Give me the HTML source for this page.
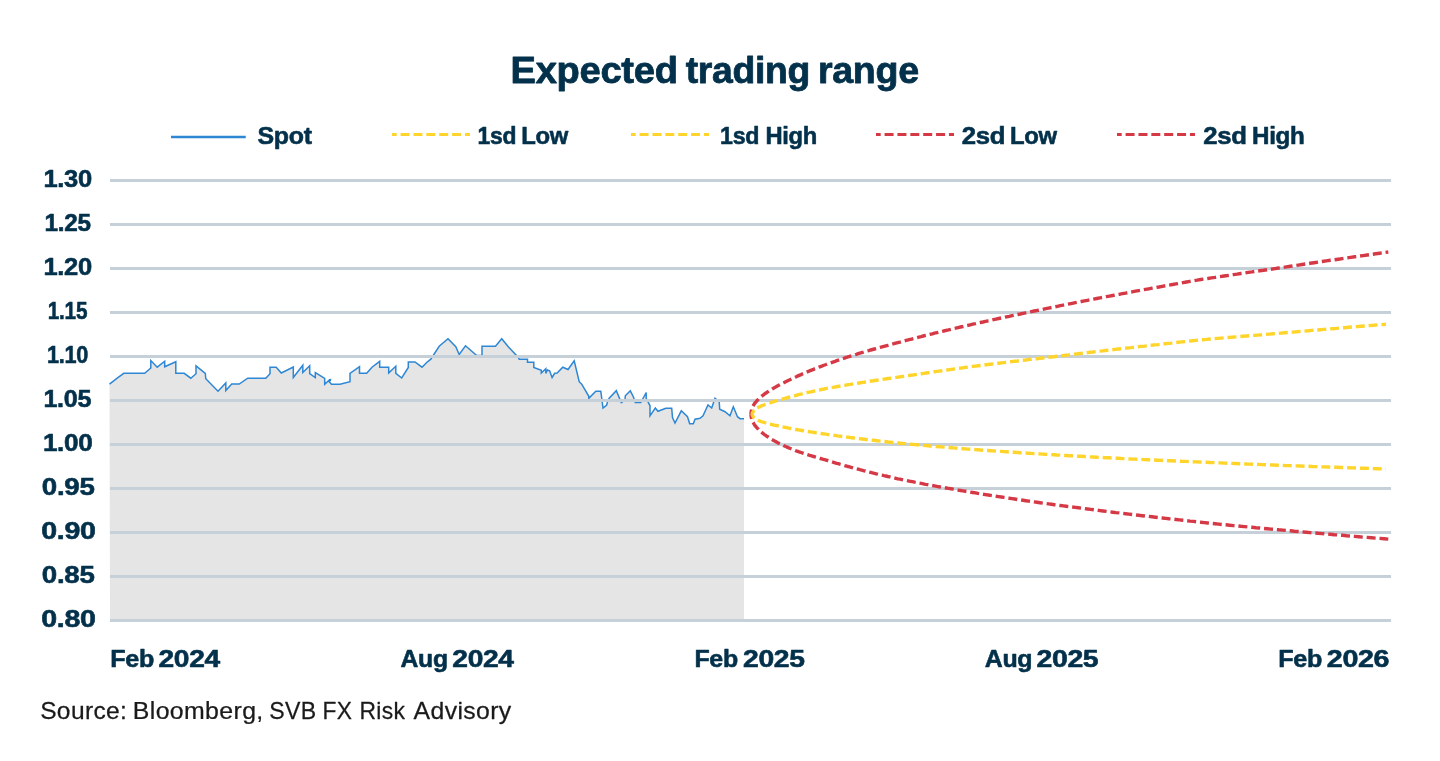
<!DOCTYPE html>
<html lang="en">
<head>
<meta charset="utf-8">
<title>Expected trading range</title>
<style>
html,body{margin:0;padding:0;background:#fff;}
body{width:1440px;height:761px;overflow:hidden;font-family:"Liberation Sans", Arial, Helvetica, sans-serif;}
svg{display:block;}
text{font-family:"Liberation Sans", Arial, Helvetica, sans-serif;white-space:pre;}
.b{font-weight:700;fill:#03304A;}
.s{font-weight:400;fill:#1A1A1A;}
</style>
</head>
<body>
<svg width="1440" height="761" viewBox="0 0 1440 761">
<rect width="1440" height="761" fill="#fff"/>
<g class="b" font-size="37" stroke="#03304A" stroke-width="0.8" stroke-linejoin="round"><text transform="scale(1.0302,1)" x="495.64 520.02 540.30 562.60 582.88 603.16 615.18 635.46 655.58" y="82.8">Expected </text><text transform="scale(1.0091,1)" x="679.53 691.56 705.65 725.93 748.23 758.21 780.51 800.64" y="82.8">trading </text><text transform="scale(1.0158,1)" x="805.23 819.33 839.61 861.91 884.21" y="82.8">range</text></g>
<line x1="171" y1="137" x2="245.75" y2="137" stroke="#2E87D4" stroke-width="2.6"/>
<line x1="392" y1="134.5" x2="470" y2="134.5" stroke="#FFD52B" stroke-width="3" stroke-dasharray="9 3.875" stroke-dashoffset="4.3"/>
<line x1="631" y1="134.5" x2="709" y2="134.5" stroke="#FFD52B" stroke-width="3" stroke-dasharray="9 3.875" stroke-dashoffset="4.3"/>
<line x1="876" y1="134.5" x2="954" y2="134.5" stroke="#D63946" stroke-width="3" stroke-dasharray="9 3.875" stroke-dashoffset="4.3"/>
<line x1="1117" y1="134.5" x2="1195" y2="134.5" stroke="#D63946" stroke-width="3" stroke-dasharray="9 3.875" stroke-dashoffset="4.3"/>
<g class="b" font-size="24.5" stroke="#03304A" stroke-width="0.6" stroke-linejoin="round"><text transform="scale(1.0172,1)" x="253.18 269.22 283.89 298.55" y="143.7">Spot</text></g>
<g class="b" font-size="24.5" stroke="#03304A" stroke-width="0.6" stroke-linejoin="round"><text transform="scale(0.9345,1)" x="511.10 524.42 537.75 551.12" y="143.7">1sd </text><text transform="scale(0.9737,1)" x="535.27 549.94 564.60" y="143.7">Low</text></g>
<g class="b" font-size="24.5" stroke="#03304A" stroke-width="0.6" stroke-linejoin="round"><text transform="scale(0.9474,1)" x="760.03 773.35 786.68 800.05" y="143.7">1sd </text><text transform="scale(0.9695,1)" x="789.53 806.92 813.43 828.09" y="143.7">High</text></g>
<g class="b" font-size="24.5" stroke="#03304A" stroke-width="0.6" stroke-linejoin="round"><text transform="scale(1.0498,1)" x="916.24 929.57 942.89 956.27" y="143.7">2sd </text><text transform="scale(0.9759,1)" x="1034.88 1049.54 1064.21" y="143.7">Low</text></g>
<g class="b" font-size="24.5" stroke="#03304A" stroke-width="0.6" stroke-linejoin="round"><text transform="scale(1.0498,1)" x="1146.10 1159.42 1172.75 1186.12" y="143.7">2sd </text><text transform="scale(0.9873,1)" x="1268.08 1285.47 1291.98 1306.65" y="143.7">High</text></g>
<path d="M109.5,384.2 L117.5,377.8 L123.8,373.3 L144.7,373.3 L150.8,368.0 L150.8,360.5 L157.2,367.2 L164.7,361.2 L164.7,366.8 L175.8,361.7 L175.8,373.3 L184.2,373.3 L190.8,378.2 L196.0,373.7 L196.0,365.8 L205.3,373.3 L205.8,378.7 L218.0,391.2 L225.8,383.0 L225.8,390.5 L231.7,384.0 L239.2,384.0 L247.7,378.2 L265.8,378.2 L270.0,373.7 L270.0,367.3 L276.2,367.3 L281.3,373.0 L293.3,367.0 L293.3,377.5 L302.8,365.3 L302.8,372.5 L309.7,365.8 L309.7,373.7 L315.3,377.5 L315.3,372.5 L324.7,378.3 L324.7,384.2 L329.6,379.7 L330.5,379.6 L330.4,380.5 L329.2,381.8 L331.5,384.2 L340.0,384.2 L350.0,381.7 L350.0,373.3 L359.5,366.7 L359.5,373.3 L366.7,373.3 L372.0,367.2 L379.7,361.3 L379.7,367.2 L388.7,367.2 L388.7,373.0 L395.8,366.3 L395.8,373.3 L401.7,378.0 L408.3,367.5 L408.3,362.0 L415.0,362.0 L422.0,367.2 L426.7,362.5 L430.8,359.2 L439.2,346.3 L448.0,338.8 L455.8,346.7 L459.2,354.5 L465.5,345.8 L476.7,355.5 L482.0,355.5 L482.0,346.2 L495.5,346.2 L501.7,338.7 L508.3,346.7 L518.3,357.5 L519.2,359.2 L527.5,359.2 L527.5,362.2 L533.8,362.2 L533.8,367.5 L541.3,370.3 L541.3,373.0 L545.8,368.8 L545.8,373.3 L547.5,370.0 L549.6,370.8 L552.1,377.5 L554.7,373.3 L557.1,373.0 L562.8,367.2 L568.0,369.5 L574.2,360.8 L579.2,381.7 L581.7,384.2 L588.8,396.3 L588.8,398.3 L595.8,391.2 L600.8,391.2 L603.0,408.0 L606.7,405.0 L607.5,401.7 L609.2,398.3 L616.3,390.7 L621.3,402.5 L625.0,400.0 L625.3,395.8 L630.3,390.8 L633.3,396.7 L635.3,402.5 L640.8,402.5 L646.2,392.5 L646.2,398.3 L650.0,405.8 L650.0,415.8 L655.3,408.0 L658.0,411.3 L665.8,408.3 L671.7,408.3 L672.5,417.5 L675.0,423.0 L681.3,410.8 L687.5,416.7 L689.7,423.7 L693.3,423.7 L695.0,419.2 L700.0,418.3 L703.0,415.8 L708.0,405.0 L711.7,408.0 L715.0,398.3 L719.2,401.7 L719.7,409.2 L725.0,411.7 L730.0,415.8 L733.3,406.7 L737.5,416.7 L740.0,418.7 L744.0,418.7 L744,620.5 L110,620.5 Z" fill="#E5E5E5"/>
<path d="M109.5,384.2 L117.5,377.8 L123.8,373.3 L144.7,373.3 L150.8,368.0 L150.8,360.5 L157.2,367.2 L164.7,361.2 L164.7,366.8 L175.8,361.7 L175.8,373.3 L184.2,373.3 L190.8,378.2 L196.0,373.7 L196.0,365.8 L205.3,373.3 L205.8,378.7 L218.0,391.2 L225.8,383.0 L225.8,390.5 L231.7,384.0 L239.2,384.0 L247.7,378.2 L265.8,378.2 L270.0,373.7 L270.0,367.3 L276.2,367.3 L281.3,373.0 L293.3,367.0 L293.3,377.5 L302.8,365.3 L302.8,372.5 L309.7,365.8 L309.7,373.7 L315.3,377.5 L315.3,372.5 L324.7,378.3 L324.7,384.2 L329.6,379.7 L330.5,379.6 L330.4,380.5 L329.2,381.8 L331.5,384.2 L340.0,384.2 L350.0,381.7 L350.0,373.3 L359.5,366.7 L359.5,373.3 L366.7,373.3 L372.0,367.2 L379.7,361.3 L379.7,367.2 L388.7,367.2 L388.7,373.0 L395.8,366.3 L395.8,373.3 L401.7,378.0 L408.3,367.5 L408.3,362.0 L415.0,362.0 L422.0,367.2 L426.7,362.5 L430.8,359.2 L439.2,346.3 L448.0,338.8 L455.8,346.7 L459.2,354.5 L465.5,345.8 L476.7,355.5 L482.0,355.5 L482.0,346.2 L495.5,346.2 L501.7,338.7 L508.3,346.7 L518.3,357.5 L519.2,359.2 L527.5,359.2 L527.5,362.2 L533.8,362.2 L533.8,367.5 L541.3,370.3 L541.3,373.0 L545.8,368.8 L545.8,373.3 L547.5,370.0 L549.6,370.8 L552.1,377.5 L554.7,373.3 L557.1,373.0 L562.8,367.2 L568.0,369.5 L574.2,360.8 L579.2,381.7 L581.7,384.2 L588.8,396.3 L588.8,398.3 L595.8,391.2 L600.8,391.2 L603.0,408.0 L606.7,405.0 L607.5,401.7 L609.2,398.3 L616.3,390.7 L621.3,402.5 L625.0,400.0 L625.3,395.8 L630.3,390.8 L633.3,396.7 L635.3,402.5 L640.8,402.5 L646.2,392.5 L646.2,398.3 L650.0,405.8 L650.0,415.8 L655.3,408.0 L658.0,411.3 L665.8,408.3 L671.7,408.3 L672.5,417.5 L675.0,423.0 L681.3,410.8 L687.5,416.7 L689.7,423.7 L693.3,423.7 L695.0,419.2 L700.0,418.3 L703.0,415.8 L708.0,405.0 L711.7,408.0 L715.0,398.3 L719.2,401.7 L719.7,409.2 L725.0,411.7 L730.0,415.8 L733.3,406.7 L737.5,416.7 L740.0,418.7 L744.0,418.7" fill="none" stroke="#2E87D4" stroke-width="1.5" stroke-linejoin="miter"/>
<rect x="110" y="179" width="1281" height="3" fill="#C5D0D9"/><rect x="110" y="223" width="1281" height="3" fill="#C5D0D9"/><rect x="110" y="267" width="1281" height="3" fill="#C5D0D9"/><rect x="110" y="311" width="1281" height="3" fill="#C5D0D9"/><rect x="110" y="355" width="1281" height="3" fill="#C5D0D9"/><rect x="110" y="399" width="1281" height="3" fill="#C5D0D9"/><rect x="110" y="443" width="1281" height="3" fill="#C5D0D9"/><rect x="110" y="487" width="1281" height="3" fill="#C5D0D9"/><rect x="110" y="531" width="1281" height="3" fill="#C5D0D9"/><rect x="110" y="575" width="1281" height="3" fill="#C5D0D9"/><rect x="110" y="619" width="1281" height="3" fill="#C5D0D9"/>
<g fill="none" stroke-width="3.4" stroke-dasharray="9 3.875" stroke-dashoffset="4.3">
<path d="M751.0,414.2 L751.0,414.7 L751.0,415.2 L751.1,415.6 L751.1,416.1 L751.2,416.6 L751.3,417.1 L751.3,417.5 L751.5,418.0 L751.6,418.5 L751.7,419.0 L751.9,419.4 L752.0,419.9 L752.2,420.4 L752.4,420.8 L752.6,421.3 L752.8,421.8 L753.0,422.2 L753.3,422.7 L753.6,423.2 L753.8,423.7 L754.1,424.1 L754.4,424.6 L754.7,425.1 L755.1,425.5 L755.4,426.0 L755.8,426.5 L756.2,426.9 L756.6,427.4 L757.0,427.8 L757.4,428.3 L757.8,428.8 L758.3,429.2 L758.7,429.7 L759.2,430.2 L759.7,430.6 L760.2,431.1 L760.7,431.5 L761.2,432.0 L761.8,432.5 L762.3,432.9 L762.9,433.4 L763.5,433.8 L764.1,434.3 L764.7,434.8 L765.3,435.2 L766.0,435.7 L766.6,436.1 L767.3,436.6 L768.0,437.0 L768.7,437.5 L769.4,437.9 L770.1,438.4 L770.9,438.9 L771.6,439.3 L772.4,439.8 L773.2,440.2 L774.0,440.7 L774.8,441.1 L775.6,441.6 L776.5,442.0 L777.3,442.5 L778.2,442.9 L779.1,443.4 L780.0,443.8 L780.9,444.3 L781.8,444.7 L782.8,445.1 L783.7,445.6 L784.7,446.0 L785.7,446.5 L786.7,446.9 L787.7,447.4 L788.7,447.8 L789.8,448.3 L790.8,448.7 L791.9,449.1 L793.0,449.6 L794.1,450.0 L795.2,450.5 L796.3,450.9 L797.5,451.3 L798.6,451.7 L799.8,452.1 L801.0,452.5 L802.2,452.9 L803.4,453.3 L804.6,453.7 L805.8,454.1 L807.1,454.5 L808.4,454.9 L809.6,455.3 L810.9,455.7 L812.2,456.1 L813.6,456.5 L814.9,456.9 L816.3,457.3 L817.6,457.7 L819.0,458.1 L820.4,458.5 L821.8,458.9 L823.2,459.3 L824.7,459.7 L826.1,460.1 L827.6,460.5 L829.1,461.0 L830.6,461.4 L832.1,461.9 L833.6,462.3 L835.1,462.8 L836.7,463.3 L838.2,463.7 L839.8,464.2 L841.4,464.6 L843.0,465.1 L844.6,465.6 L846.3,466.0 L847.9,466.5 L849.6,466.9 L851.3,467.4 L853.0,467.8 L854.7,468.3 L856.4,468.8 L858.1,469.2 L859.9,469.7 L861.6,470.1 L863.4,470.6 L865.2,471.0 L867.0,471.5 L868.8,471.9 L870.7,472.4 L872.5,472.9 L874.4,473.3 L876.3,473.8 L878.1,474.2 L880.1,474.7 L882.0,475.1 L883.9,475.6 L885.9,476.0 L887.8,476.5 L889.8,476.9 L891.8,477.4 L893.8,477.8 L895.8,478.3 L897.8,478.8 L899.9,479.2 L901.9,479.6 L904.0,480.1 L906.1,480.5 L908.2,480.9 L910.3,481.3 L912.5,481.7 L914.6,482.2 L916.8,482.6 L918.9,483.0 L921.1,483.4 L923.3,483.8 L925.5,484.3 L927.8,484.7 L930.0,485.1 L932.3,485.5 L934.5,485.9 L936.8,486.3 L939.1,486.8 L941.5,487.2 L943.8,487.6 L946.1,488.0 L948.5,488.4 L950.9,488.8 L953.2,489.2 L955.6,489.7 L958.1,490.1 L960.5,490.5 L962.9,490.9 L965.4,491.3 L967.9,491.7 L970.3,492.1 L972.8,492.5 L975.4,492.9 L977.9,493.4 L980.4,493.8 L983.0,494.2 L985.6,494.6 L988.1,495.0 L990.7,495.4 L993.4,495.8 L996.0,496.2 L998.6,496.6 L1001.3,497.0 L1003.9,497.4 L1006.6,497.8 L1009.3,498.2 L1012.0,498.6 L1014.8,499.0 L1017.5,499.5 L1020.3,499.9 L1023.0,500.3 L1025.8,500.7 L1028.6,501.1 L1031.4,501.5 L1034.2,501.9 L1037.1,502.3 L1039.9,502.7 L1042.8,503.1 L1045.7,503.5 L1048.6,503.9 L1051.5,504.3 L1054.4,504.7 L1057.4,505.1 L1060.3,505.5 L1063.3,505.9 L1066.3,506.3 L1069.3,506.7 L1072.3,507.0 L1075.3,507.4 L1078.3,507.8 L1081.4,508.2 L1084.4,508.6 L1087.5,509.0 L1090.6,509.4 L1093.7,509.8 L1096.8,510.2 L1100.0,510.6 L1103.1,511.0 L1106.3,511.4 L1109.5,511.8 L1112.7,512.2 L1115.9,512.6 L1119.1,512.9 L1122.3,513.3 L1125.6,513.7 L1128.9,514.1 L1132.1,514.5 L1135.4,514.9 L1138.7,515.3 L1142.1,515.7 L1145.4,516.1 L1148.7,516.4 L1152.1,516.8 L1155.5,517.2 L1158.9,517.6 L1162.3,518.0 L1165.7,518.4 L1169.1,518.8 L1172.6,519.1 L1176.0,519.5 L1179.5,519.9 L1183.0,520.3 L1186.5,520.7 L1190.0,521.1 L1193.6,521.4 L1197.1,521.8 L1200.7,522.2 L1204.3,522.6 L1207.8,523.0 L1211.4,523.4 L1215.1,523.7 L1218.7,524.1 L1222.3,524.5 L1226.0,524.8 L1229.7,525.2 L1233.4,525.6 L1237.1,525.9 L1240.8,526.3 L1244.5,526.6 L1248.3,527.0 L1252.0,527.3 L1255.8,527.7 L1259.6,528.0 L1263.4,528.4 L1267.2,528.7 L1271.0,529.1 L1274.9,529.4 L1278.7,529.8 L1282.6,530.1 L1286.5,530.5 L1290.4,530.8 L1294.3,531.2 L1298.3,531.5 L1302.2,531.9 L1306.2,532.2 L1310.1,532.6 L1314.1,532.9 L1318.1,533.3 L1322.1,533.6 L1326.2,534.0 L1330.2,534.3 L1334.3,534.7 L1338.3,535.0 L1342.4,535.3 L1346.5,535.7 L1350.6,536.0 L1354.8,536.4 L1358.9,536.7 L1363.1,537.1 L1367.2,537.4 L1371.4,537.7 L1375.6,538.1 L1379.8,538.4 L1384.1,538.7 L1388.3,539.1" stroke="#D63946"/>
<path d="M751.0,414.2 L751.0,413.7 L751.0,413.2 L751.1,412.8 L751.1,412.3 L751.2,411.8 L751.3,411.3 L751.3,410.9 L751.5,410.4 L751.6,409.9 L751.7,409.4 L751.9,409.0 L752.0,408.5 L752.2,408.0 L752.4,407.6 L752.6,407.1 L752.8,406.6 L753.0,406.2 L753.3,405.7 L753.6,405.2 L753.8,404.8 L754.1,404.3 L754.4,403.8 L754.7,403.4 L755.1,402.9 L755.4,402.5 L755.8,402.0 L756.2,401.6 L756.6,401.1 L757.0,400.6 L757.4,400.2 L757.8,399.7 L758.3,399.3 L758.7,398.8 L759.2,398.4 L759.7,397.9 L760.2,397.5 L760.7,397.0 L761.2,396.6 L761.8,396.1 L762.3,395.7 L762.9,395.3 L763.5,394.8 L764.1,394.4 L764.7,393.9 L765.3,393.5 L766.0,393.1 L766.6,392.6 L767.3,392.1 L768.0,391.6 L768.7,391.2 L769.4,390.7 L770.1,390.2 L770.9,389.8 L771.6,389.3 L772.4,388.8 L773.2,388.4 L774.0,387.9 L774.8,387.4 L775.6,387.0 L776.5,386.5 L777.3,386.0 L778.2,385.6 L779.1,385.1 L780.0,384.6 L780.9,384.2 L781.8,383.7 L782.8,383.2 L783.7,382.8 L784.7,382.3 L785.7,381.8 L786.7,381.3 L787.7,380.8 L788.7,380.3 L789.8,379.8 L790.8,379.3 L791.9,378.7 L793.0,378.2 L794.1,377.7 L795.2,377.2 L796.3,376.7 L797.5,376.1 L798.6,375.6 L799.8,375.1 L801.0,374.6 L802.2,374.0 L803.4,373.5 L804.6,373.0 L805.8,372.4 L807.1,371.9 L808.4,371.4 L809.6,370.9 L810.9,370.3 L812.2,369.8 L813.6,369.3 L814.9,368.7 L816.3,368.2 L817.6,367.7 L819.0,367.1 L820.4,366.6 L821.8,366.1 L823.2,365.5 L824.7,365.0 L826.1,364.5 L827.6,363.9 L829.1,363.4 L830.6,362.9 L832.1,362.3 L833.6,361.8 L835.1,361.3 L836.7,360.7 L838.2,360.2 L839.8,359.6 L841.4,359.1 L843.0,358.6 L844.6,358.0 L846.3,357.5 L847.9,356.9 L849.6,356.4 L851.3,355.8 L853.0,355.3 L854.7,354.8 L856.4,354.3 L858.1,353.7 L859.9,353.2 L861.6,352.7 L863.4,352.2 L865.2,351.6 L867.0,351.1 L868.8,350.6 L870.7,350.0 L872.5,349.5 L874.4,349.0 L876.3,348.5 L878.1,347.9 L880.1,347.4 L882.0,346.9 L883.9,346.3 L885.9,345.8 L887.8,345.3 L889.8,344.7 L891.8,344.2 L893.8,343.7 L895.8,343.1 L897.8,342.6 L899.9,342.1 L901.9,341.5 L904.0,341.0 L906.1,340.4 L908.2,339.9 L910.3,339.3 L912.5,338.8 L914.6,338.2 L916.8,337.7 L918.9,337.1 L921.1,336.6 L923.3,336.0 L925.5,335.4 L927.8,334.9 L930.0,334.3 L932.3,333.8 L934.5,333.2 L936.8,332.7 L939.1,332.1 L941.5,331.5 L943.8,331.0 L946.1,330.4 L948.5,329.9 L950.9,329.3 L953.2,328.7 L955.6,328.2 L958.1,327.6 L960.5,327.0 L962.9,326.5 L965.4,325.9 L967.9,325.4 L970.3,324.8 L972.8,324.2 L975.4,323.7 L977.9,323.1 L980.4,322.5 L983.0,322.0 L985.6,321.4 L988.1,320.8 L990.7,320.3 L993.4,319.7 L996.0,319.1 L998.6,318.5 L1001.3,318.0 L1003.9,317.4 L1006.6,316.8 L1009.3,316.3 L1012.0,315.7 L1014.8,315.1 L1017.5,314.5 L1020.3,314.0 L1023.0,313.4 L1025.8,312.8 L1028.6,312.2 L1031.4,311.6 L1034.2,311.0 L1037.1,310.5 L1039.9,309.9 L1042.8,309.3 L1045.7,308.7 L1048.6,308.1 L1051.5,307.5 L1054.4,306.9 L1057.4,306.3 L1060.3,305.7 L1063.3,305.1 L1066.3,304.5 L1069.3,303.9 L1072.3,303.3 L1075.3,302.7 L1078.3,302.1 L1081.4,301.5 L1084.4,300.9 L1087.5,300.3 L1090.6,299.7 L1093.7,299.1 L1096.8,298.5 L1100.0,297.9 L1103.1,297.3 L1106.3,296.7 L1109.5,296.1 L1112.7,295.5 L1115.9,294.9 L1119.1,294.3 L1122.3,293.7 L1125.6,293.1 L1128.9,292.4 L1132.1,291.8 L1135.4,291.2 L1138.7,290.6 L1142.1,290.0 L1145.4,289.4 L1148.7,288.8 L1152.1,288.2 L1155.5,287.6 L1158.9,287.0 L1162.3,286.3 L1165.7,285.7 L1169.1,285.1 L1172.6,284.5 L1176.0,283.9 L1179.5,283.3 L1183.0,282.6 L1186.5,282.0 L1190.0,281.4 L1193.6,280.8 L1197.1,280.2 L1200.7,279.5 L1204.3,279.0 L1207.8,278.5 L1211.4,277.9 L1215.1,277.4 L1218.7,276.8 L1222.3,276.3 L1226.0,275.7 L1229.7,275.2 L1233.4,274.6 L1237.1,274.1 L1240.8,273.5 L1244.5,273.0 L1248.3,272.4 L1252.0,271.9 L1255.8,271.3 L1259.6,270.8 L1263.4,270.3 L1267.2,269.7 L1271.0,269.2 L1274.9,268.6 L1278.7,268.0 L1282.6,267.5 L1286.5,266.9 L1290.4,266.3 L1294.3,265.7 L1298.3,265.1 L1302.2,264.5 L1306.2,263.9 L1310.1,263.3 L1314.1,262.7 L1318.1,262.1 L1322.1,261.5 L1326.2,260.9 L1330.2,260.3 L1334.3,259.8 L1338.3,259.2 L1342.4,258.6 L1346.5,258.0 L1350.6,257.4 L1354.8,256.8 L1358.9,256.2 L1363.1,255.6 L1367.2,255.0 L1371.4,254.4 L1375.6,253.8 L1379.8,253.2 L1384.1,252.6 L1388.3,252.0" stroke="#D63946"/>
<path d="M752.3,414.2 L752.3,414.4 L752.3,414.7 L752.4,414.9 L752.4,415.1 L752.5,415.4 L752.6,415.6 L752.6,415.8 L752.8,416.1 L752.9,416.3 L753.0,416.5 L753.2,416.7 L753.3,416.9 L753.5,417.2 L753.7,417.4 L753.9,417.6 L754.1,417.8 L754.3,418.0 L754.6,418.2 L754.8,418.4 L755.1,418.6 L755.4,418.8 L755.7,419.0 L756.0,419.2 L756.4,419.4 L756.7,419.6 L757.1,419.8 L757.4,420.0 L757.8,420.2 L758.2,420.4 L758.6,420.6 L759.1,420.8 L759.5,421.0 L760.0,421.1 L760.4,421.3 L760.9,421.5 L761.4,421.7 L761.9,421.8 L762.5,422.0 L763.0,422.2 L763.6,422.3 L764.1,422.5 L764.7,422.7 L765.3,422.8 L765.9,423.0 L766.6,423.2 L767.2,423.3 L767.9,423.5 L768.5,423.7 L769.2,423.9 L769.9,424.1 L770.6,424.2 L771.3,424.4 L772.1,424.6 L772.8,424.8 L773.6,425.0 L774.4,425.1 L775.2,425.3 L776.0,425.5 L776.8,425.7 L777.6,425.8 L778.5,426.0 L779.4,426.2 L780.2,426.3 L781.1,426.5 L782.0,426.7 L783.0,426.9 L783.9,427.1 L784.9,427.3 L785.8,427.5 L786.8,427.7 L787.8,427.9 L788.8,428.1 L789.8,428.3 L790.9,428.5 L791.9,428.7 L793.0,428.9 L794.0,429.1 L795.1,429.3 L796.2,429.5 L797.4,429.7 L798.5,429.9 L799.6,430.1 L800.8,430.3 L802.0,430.5 L803.2,430.7 L804.4,430.9 L805.6,431.1 L806.8,431.3 L808.1,431.5 L809.3,431.7 L810.6,431.9 L811.9,432.1 L813.2,432.3 L814.5,432.5 L815.8,432.7 L817.2,432.9 L818.5,433.1 L819.9,433.3 L821.3,433.5 L822.7,433.7 L824.1,433.9 L825.6,434.1 L827.0,434.4 L828.5,434.6 L829.9,434.8 L831.4,435.0 L832.9,435.2 L834.4,435.4 L836.0,435.6 L837.5,435.9 L839.1,436.1 L840.6,436.3 L842.2,436.5 L843.8,436.7 L845.4,436.9 L847.0,437.1 L848.7,437.3 L850.3,437.6 L852.0,437.8 L853.7,438.0 L855.4,438.2 L857.1,438.4 L858.8,438.6 L860.6,438.8 L862.3,439.0 L864.1,439.2 L865.9,439.5 L867.7,439.7 L869.5,439.9 L871.3,440.1 L873.1,440.3 L875.0,440.5 L876.9,440.7 L878.7,440.9 L880.6,441.1 L882.5,441.3 L884.5,441.5 L886.4,441.7 L888.3,442.0 L890.3,442.2 L892.3,442.4 L894.3,442.6 L896.3,442.8 L898.3,443.0 L900.3,443.2 L902.4,443.4 L904.5,443.6 L906.5,443.8 L908.6,444.0 L910.7,444.2 L912.8,444.4 L915.0,444.6 L917.1,444.8 L919.3,445.0 L921.5,445.2 L923.7,445.4 L925.9,445.6 L928.1,445.8 L930.3,446.0 L932.6,446.2 L934.8,446.4 L937.1,446.6 L939.4,446.7 L941.7,446.9 L944.0,447.1 L946.3,447.3 L948.7,447.5 L951.0,447.7 L953.4,447.9 L955.8,448.1 L958.2,448.3 L960.6,448.5 L963.0,448.7 L965.5,448.9 L967.9,449.1 L970.4,449.3 L972.9,449.4 L975.4,449.6 L977.9,449.8 L980.4,450.0 L983.0,450.2 L985.5,450.4 L988.1,450.5 L990.7,450.7 L993.3,450.9 L995.9,451.1 L998.5,451.3 L1001.2,451.4 L1003.8,451.6 L1006.5,451.8 L1009.2,452.0 L1011.9,452.2 L1014.6,452.3 L1017.3,452.5 L1020.0,452.7 L1022.8,452.9 L1025.6,453.0 L1028.3,453.2 L1031.1,453.4 L1033.9,453.6 L1036.8,453.7 L1039.6,453.9 L1042.5,454.1 L1045.3,454.3 L1048.2,454.4 L1051.1,454.6 L1054.0,454.8 L1056.9,455.0 L1059.9,455.1 L1062.8,455.3 L1065.8,455.5 L1068.8,455.7 L1071.7,455.8 L1074.8,456.0 L1077.8,456.2 L1080.8,456.3 L1083.9,456.5 L1086.9,456.7 L1090.0,456.9 L1093.1,457.0 L1096.2,457.2 L1099.3,457.4 L1102.4,457.5 L1105.6,457.7 L1108.8,457.8 L1111.9,458.0 L1115.1,458.2 L1118.3,458.3 L1121.5,458.5 L1124.8,458.6 L1128.0,458.8 L1131.3,459.0 L1134.6,459.1 L1137.8,459.3 L1141.1,459.4 L1144.5,459.6 L1147.8,459.7 L1151.1,459.9 L1154.5,460.0 L1157.9,460.2 L1161.3,460.4 L1164.7,460.5 L1168.1,460.7 L1171.5,460.8 L1174.9,461.0 L1178.4,461.1 L1181.9,461.3 L1185.4,461.4 L1188.9,461.6 L1192.4,461.7 L1195.9,461.9 L1199.4,462.0 L1203.0,462.2 L1206.6,462.3 L1210.1,462.5 L1213.7,462.6 L1217.4,462.8 L1221.0,462.9 L1224.6,463.1 L1228.3,463.2 L1231.9,463.4 L1235.6,463.5 L1239.3,463.7 L1243.0,463.8 L1246.8,464.0 L1250.5,464.1 L1254.3,464.3 L1258.0,464.4 L1261.8,464.6 L1265.6,464.7 L1269.4,464.9 L1273.2,465.0 L1277.1,465.2 L1280.9,465.3 L1284.8,465.5 L1288.7,465.6 L1292.6,465.7 L1296.5,465.9 L1300.4,466.0 L1304.3,466.2 L1308.3,466.3 L1312.2,466.5 L1316.2,466.6 L1320.2,466.8 L1324.2,466.9 L1328.2,467.0 L1332.3,467.2 L1336.3,467.3 L1340.4,467.5 L1344.5,467.6 L1348.5,467.7 L1352.7,467.9 L1356.8,468.0 L1360.9,468.2 L1365.1,468.3 L1369.2,468.4 L1373.4,468.6 L1377.6,468.7 L1381.8,468.9 L1386.0,469.0" stroke="#FFD52B"/>
<path d="M752.3,414.2 L752.3,414.0 L752.3,413.7 L752.4,413.5 L752.4,413.2 L752.5,413.0 L752.6,412.8 L752.6,412.5 L752.8,412.3 L752.9,412.1 L753.0,411.8 L753.2,411.6 L753.3,411.4 L753.5,411.1 L753.7,410.9 L753.9,410.7 L754.1,410.4 L754.3,410.2 L754.6,410.0 L754.8,409.7 L755.1,409.5 L755.4,409.3 L755.7,409.1 L756.0,408.8 L756.4,408.6 L756.7,408.4 L757.1,408.1 L757.4,407.9 L757.8,407.7 L758.2,407.5 L758.6,407.2 L759.1,407.0 L759.5,406.8 L760.0,406.6 L760.4,406.4 L760.9,406.1 L761.4,405.9 L761.9,405.7 L762.5,405.5 L763.0,405.3 L763.6,405.0 L764.1,404.8 L764.7,404.6 L765.3,404.4 L765.9,404.2 L766.6,404.0 L767.2,403.7 L767.9,403.5 L768.5,403.3 L769.2,403.0 L769.9,402.8 L770.6,402.5 L771.3,402.3 L772.1,402.1 L772.8,401.8 L773.6,401.6 L774.4,401.3 L775.2,401.1 L776.0,400.9 L776.8,400.6 L777.6,400.4 L778.5,400.1 L779.4,399.9 L780.2,399.7 L781.1,399.4 L782.0,399.2 L783.0,398.9 L783.9,398.6 L784.9,398.4 L785.8,398.1 L786.8,397.8 L787.8,397.5 L788.8,397.2 L789.8,397.0 L790.9,396.7 L791.9,396.4 L793.0,396.1 L794.0,395.8 L795.1,395.6 L796.2,395.3 L797.4,395.0 L798.5,394.7 L799.6,394.4 L800.8,394.1 L802.0,393.9 L803.2,393.6 L804.4,393.3 L805.6,393.0 L806.8,392.7 L808.1,392.4 L809.3,392.1 L810.6,391.9 L811.9,391.6 L813.2,391.3 L814.5,391.0 L815.8,390.7 L817.2,390.4 L818.5,390.1 L819.9,389.8 L821.3,389.5 L822.7,389.2 L824.1,389.0 L825.6,388.7 L827.0,388.4 L828.5,388.2 L829.9,387.9 L831.4,387.6 L832.9,387.4 L834.4,387.1 L836.0,386.8 L837.5,386.5 L839.1,386.3 L840.6,386.0 L842.2,385.7 L843.8,385.4 L845.4,385.2 L847.0,384.9 L848.7,384.6 L850.3,384.4 L852.0,384.1 L853.7,383.8 L855.4,383.5 L857.1,383.3 L858.8,383.0 L860.6,382.7 L862.3,382.4 L864.1,382.2 L865.9,381.9 L867.7,381.6 L869.5,381.3 L871.3,381.0 L873.1,380.8 L875.0,380.5 L876.9,380.2 L878.7,379.9 L880.6,379.7 L882.5,379.4 L884.5,379.1 L886.4,378.8 L888.3,378.5 L890.3,378.3 L892.3,378.0 L894.3,377.7 L896.3,377.4 L898.3,377.1 L900.3,376.8 L902.4,376.6 L904.5,376.2 L906.5,375.9 L908.6,375.6 L910.7,375.3 L912.8,375.0 L915.0,374.6 L917.1,374.3 L919.3,374.0 L921.5,373.7 L923.7,373.4 L925.9,373.0 L928.1,372.7 L930.3,372.4 L932.6,372.1 L934.8,371.7 L937.1,371.4 L939.4,371.1 L941.7,370.8 L944.0,370.4 L946.3,370.1 L948.7,369.8 L951.0,369.4 L953.4,369.1 L955.8,368.8 L958.2,368.4 L960.6,368.1 L963.0,367.8 L965.5,367.4 L967.9,367.1 L970.4,366.8 L972.9,366.4 L975.4,366.1 L977.9,365.8 L980.4,365.5 L983.0,365.2 L985.5,364.8 L988.1,364.5 L990.7,364.2 L993.3,363.9 L995.9,363.6 L998.5,363.2 L1001.2,362.9 L1003.8,362.6 L1006.5,362.3 L1009.2,361.9 L1011.9,361.6 L1014.6,361.3 L1017.3,361.0 L1020.0,360.6 L1022.8,360.3 L1025.6,360.0 L1028.3,359.6 L1031.1,359.3 L1033.9,359.0 L1036.8,358.7 L1039.6,358.3 L1042.5,358.0 L1045.3,357.7 L1048.2,357.3 L1051.1,357.0 L1054.0,356.7 L1056.9,356.3 L1059.9,355.9 L1062.8,355.6 L1065.8,355.2 L1068.8,354.9 L1071.7,354.5 L1074.8,354.1 L1077.8,353.8 L1080.8,353.4 L1083.9,353.1 L1086.9,352.7 L1090.0,352.3 L1093.1,352.0 L1096.2,351.6 L1099.3,351.2 L1102.4,350.9 L1105.6,350.5 L1108.8,350.1 L1111.9,349.8 L1115.1,349.4 L1118.3,349.0 L1121.5,348.7 L1124.8,348.3 L1128.0,347.9 L1131.3,347.6 L1134.6,347.2 L1137.8,346.8 L1141.1,346.4 L1144.5,346.1 L1147.8,345.7 L1151.1,345.3 L1154.5,344.9 L1157.9,344.6 L1161.3,344.2 L1164.7,343.8 L1168.1,343.4 L1171.5,343.1 L1174.9,342.7 L1178.4,342.3 L1181.9,341.9 L1185.4,341.6 L1188.9,341.2 L1192.4,340.8 L1195.9,340.4 L1199.4,340.0 L1203.0,339.7 L1206.6,339.4 L1210.1,339.0 L1213.7,338.7 L1217.4,338.4 L1221.0,338.1 L1224.6,337.8 L1228.3,337.5 L1231.9,337.2 L1235.6,336.9 L1239.3,336.6 L1243.0,336.3 L1246.8,336.0 L1250.5,335.7 L1254.3,335.4 L1258.0,335.1 L1261.8,334.8 L1265.6,334.4 L1269.4,334.1 L1273.2,333.8 L1277.1,333.5 L1280.9,333.1 L1284.8,332.8 L1288.7,332.5 L1292.6,332.1 L1296.5,331.8 L1300.4,331.4 L1304.3,331.1 L1308.3,330.8 L1312.2,330.4 L1316.2,330.1 L1320.2,329.7 L1324.2,329.4 L1328.2,329.1 L1332.3,328.7 L1336.3,328.4 L1340.4,328.0 L1344.5,327.7 L1348.5,327.3 L1352.7,327.0 L1356.8,326.6 L1360.9,326.3 L1365.1,326.0 L1369.2,325.6 L1373.4,325.3 L1377.6,324.9 L1381.8,324.6 L1386.0,324.2" stroke="#FFD52B"/>
</g>
<g class="b" font-size="24.5" stroke="#03304A" stroke-width="0.6" stroke-linejoin="round"><text transform="scale(1.0433,1)" x="41.63 54.96 61.46 74.79" y="186.9">1.30</text></g>
<g class="b" font-size="24.5" stroke="#03304A" stroke-width="0.6" stroke-linejoin="round"><text transform="scale(0.9920,1)" x="44.97 58.30 64.80 78.13" y="230.9">1.25</text></g>
<g class="b" font-size="24.5" stroke="#03304A" stroke-width="0.6" stroke-linejoin="round"><text transform="scale(1.0433,1)" x="41.63 54.96 61.46 74.79" y="274.9">1.20</text></g>
<g class="b" font-size="24.5" stroke="#03304A" stroke-width="0.6" stroke-linejoin="round"><text transform="scale(0.8465,1)" x="56.51 69.83 76.34 89.66" y="318.9">1.15</text></g>
<g class="b" font-size="24.5" stroke="#03304A" stroke-width="0.6" stroke-linejoin="round"><text transform="scale(0.8852,1)" x="53.06 66.39 72.89 86.22" y="362.9">1.10</text></g>
<g class="b" font-size="24.5" stroke="#03304A" stroke-width="0.6" stroke-linejoin="round"><text transform="scale(1.0256,1)" x="42.38 55.70 62.21 75.53" y="406.9">1.05</text></g>
<g class="b" font-size="24.5" stroke="#03304A" stroke-width="0.6" stroke-linejoin="round"><text transform="scale(1.0659,1)" x="40.25 53.57 60.08 73.41" y="450.9">1.00</text></g>
<g class="b" font-size="24.5" stroke="#03304A" stroke-width="0.6" stroke-linejoin="round"><text transform="scale(1.1316,1)" x="37.00 50.32 56.83 70.16" y="494.9">0.95</text></g>
<g class="b" font-size="24.5" stroke="#03304A" stroke-width="0.6" stroke-linejoin="round"><text transform="scale(1.1679,1)" x="35.30 48.63 55.14 68.46" y="538.9">0.90</text></g>
<g class="b" font-size="24.5" stroke="#03304A" stroke-width="0.6" stroke-linejoin="round"><text transform="scale(1.1316,1)" x="37.00 50.32 56.83 70.16" y="582.9">0.85</text></g>
<g class="b" font-size="24.5" stroke="#03304A" stroke-width="0.6" stroke-linejoin="round"><text transform="scale(1.1679,1)" x="35.30 48.63 55.14 68.46" y="626.9">0.80</text></g>
<g class="b" font-size="24.5" stroke="#03304A" stroke-width="0.6" stroke-linejoin="round"><text transform="scale(1.0256,1)" x="107.57 122.24 135.56 149.56" y="667">Feb </text><text transform="scale(1.1502,1)" x="137.80 151.12 164.45 177.77" y="667">2024</text></g>
<g class="b" font-size="24.5" stroke="#03304A" stroke-width="0.6" stroke-linejoin="round"><text transform="scale(1.0110,1)" x="396.12 413.51 428.18 441.55" y="667">Aug </text><text transform="scale(1.1521,1)" x="392.58 405.91 419.23 432.56" y="667">2024</text></g>
<g class="b" font-size="24.5" stroke="#03304A" stroke-width="0.6" stroke-linejoin="round"><text transform="scale(1.0182,1)" x="682.02 696.69 710.01 724.01" y="667">Feb </text><text transform="scale(1.1555,1)" x="643.02 656.34 669.67 682.99" y="667">2025</text></g>
<g class="b" font-size="24.5" stroke="#03304A" stroke-width="0.6" stroke-linejoin="round"><text transform="scale(1.0177,1)" x="967.57 984.96 999.62 1013.00" y="667">Aug </text><text transform="scale(1.1612,1)" x="892.58 905.90 919.23 932.55" y="667">2025</text></g>
<g class="b" font-size="24.5" stroke="#03304A" stroke-width="0.6" stroke-linejoin="round"><text transform="scale(1.0256,1)" x="1246.37 1261.04 1274.36 1288.36" y="667">Feb </text><text transform="scale(1.1707,1)" x="1133.33 1146.66 1159.98 1173.31" y="667">2026</text></g>
<g class="s" font-size="23.4" stroke="#1A1A1A" stroke-width="0.25" stroke-linejoin="round"><text transform="scale(1.0496,1)" x="38.25 54.19 67.54 80.89 89.02 101.06 114.41 118.79" y="719.4">Source: </text><text transform="scale(1.0629,1)" x="124.98 140.92 146.46 159.81 173.16 192.98 206.33 219.68 227.82 241.17 245.54" y="719.4">Bloomberg, </text><text transform="scale(0.9871,1)" x="272.84 288.78 304.73 319.10" y="719.4">SVB </text><text transform="scale(0.9738,1)" x="331.06 345.69 360.81" y="719.4">FX </text><text transform="scale(0.9768,1)" x="367.93 385.16 390.70 402.74 414.49" y="719.4">Risk </text><text transform="scale(1.0601,1)" x="390.17 406.11 419.46 431.50 437.04 449.08 462.43 470.56" y="719.4">Advisory</text></g>
</svg>
</body>
</html>
